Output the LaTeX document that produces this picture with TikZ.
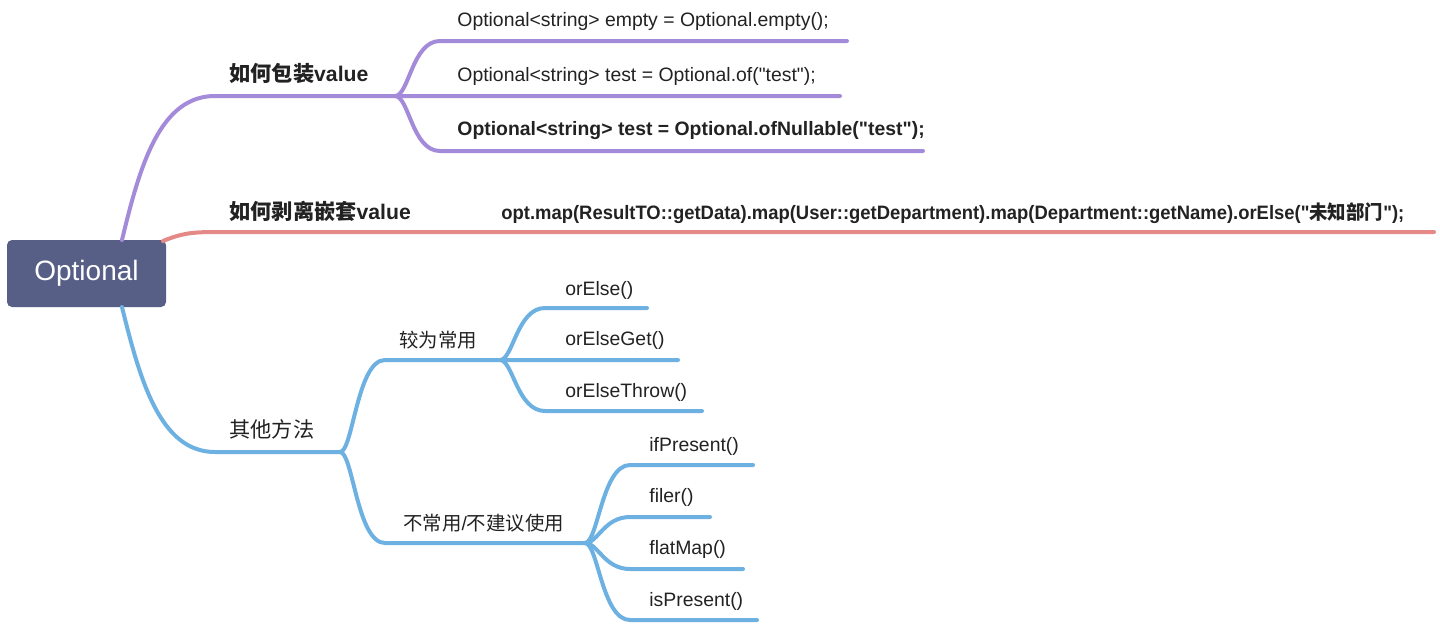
\documentclass[tikz,border=0pt]{standalone}
\usepackage{fontspec}
\setmainfont{Liberation Sans}[Ligatures=TeXOff]
\newfontfamily\cjk{Noto Sans CJK SC}[Ligatures=TeXOff]
\definecolor{cpurple}{HTML}{A48BDA}
\definecolor{cred}{HTML}{E48888}
\definecolor{cblue}{HTML}{6CB1E1}
\definecolor{croot}{HTML}{585F86}
\definecolor{ctxt}{HTML}{222222}
\begin{document}
\begin{tikzpicture}[x=0.5pt,y=-0.5pt,
  bP/.style={draw=cpurple,line width=2pt,line cap=round},
  bR/.style={draw=cred,line width=2pt,line cap=round},
  bB/.style={draw=cblue,line width=2pt,line cap=round},
  lvlone/.style={anchor=west,inner sep=0pt,text=ctxt,font=\fontsize{10.6}{12}\selectfont\bfseries},
  lvlonen/.style={anchor=west,inner sep=0pt,text=ctxt,font=\fontsize{10.6}{12}\selectfont},
  lvl/.style={anchor=west,inner sep=0pt,text=ctxt,font=\fontsize{9.7}{11}\selectfont},
  lvlb/.style={anchor=west,inner sep=0pt,text=ctxt,font=\fontsize{9.7}{11}\selectfont\bfseries},
  rootbox/.style={fill=croot,rounded corners=2.5pt,minimum width=79.5pt,minimum height=33.5pt,
    text=white,font=\fontsize{14}{16}\selectfont,inner sep=0pt}]
\useasboundingbox (0,0) rectangle (1440,623);

% root
\node[rootbox] (root) at (86.5,273.5) {Optional};

% coordinates
\coordinate (rP) at (122,240);
\coordinate (rR) at (163,241);
\coordinate (rB) at (122,307);
\coordinate (fP) at (395,96);
\coordinate (eP1) at (847,41);
\coordinate (eP2) at (840,96);
\coordinate (eP3) at (923,151);
\coordinate (eR) at (1434,232);
\coordinate (fB) at (340,452);
\coordinate (fB1) at (500,360);
\coordinate (fB2) at (585,543);
\coordinate (e11) at (647,308);
\coordinate (e12) at (678,360);
\coordinate (e13) at (702,411);
\coordinate (e21) at (753,465);
\coordinate (e22) at (710,517);
\coordinate (e23) at (743,569);
\coordinate (e24) at (757,620);

% purple branch
\draw[bP] (rP) .. controls (140,165) and (160,96) .. (215,96) -- (fP) -- (eP2);
\draw[bP] (fP) .. controls (409,96) and (412,41) .. (440,41) -- (eP1);
\draw[bP] (fP) .. controls (409,96) and (412,151) .. (440,151) -- (eP3);

% red branch
\draw[bR] (rR) .. controls (180,234) and (190,232) .. (215,232) -- (eR);

% blue branch
\draw[bB] (rB) .. controls (140,380) and (160,452) .. (215,452) -- (fB);
\draw[bB] (fB) .. controls (353,452) and (357,360) .. (385,360) -- (fB1) -- (e12);
\draw[bB] (fB) .. controls (353,452) and (357,543) .. (385,543) -- (fB2);
\draw[bB] (fB1) .. controls (513,360) and (517,308) .. (545,308) -- (e11);
\draw[bB] (fB1) .. controls (513,360) and (517,411) .. (545,411) -- (e13);
\draw[bB] (fB2) .. controls (598,543) and (602,465) .. (630,465) -- (e21);
\draw[bB] (fB2) .. controls (598,543) and (604,517) .. (630,517) -- (e22);
\draw[bB] (fB2) .. controls (598,543) and (604,569) .. (630,569) -- (e23);
\draw[bB] (fB2) .. controls (598,543) and (602,620) .. (630,620) -- (e24);

% labels
\node[lvlone] (lP) at (229,73) {{\cjk 如何包装}value};
\node[lvl] (t1) at (457,21) {Optional<string> empty = Optional.empty();};
\node[lvl] (t2) at (457,76) {Optional<string> test = Optional.of("test");};
\node[lvlb] (t3) at (457,131) {Optional<string> test = Optional.ofNullable("test");};
\node[lvlone] (lR) at (229,211) {{\cjk 如何剥离嵌套}value};
\node[lvlb] (tR) at (501,213) {\scalebox{0.95}[1]{opt.map(ResultTO::getData).map(User::getDepartment).map(Department::getName).orElse("{\cjk 未知部门}");}};
\node[lvlonen] (lB) at (229,429) {\cjk 其他方法};
\node[lvl] (lB1) at (399,340) {\cjk 较为常用};
\node[lvl] (s11) at (565,290) {orElse()};
\node[lvl] (s12) at (565,340) {orElseGet()};
\node[lvl] (s13) at (565,392) {orElseThrow()};
\node[lvl] (lB2) at (403,523) {{\cjk 不常用}/{\cjk 不建议使用}};
\node[lvl] (s21) at (649,446) {ifPresent()};
\node[lvl] (s22) at (649,497) {filer()};
\node[lvl] (s23) at (649,549) {flatMap()};
\node[lvl] (s24) at (649,601) {isPresent()};
\end{tikzpicture}
\end{document}
